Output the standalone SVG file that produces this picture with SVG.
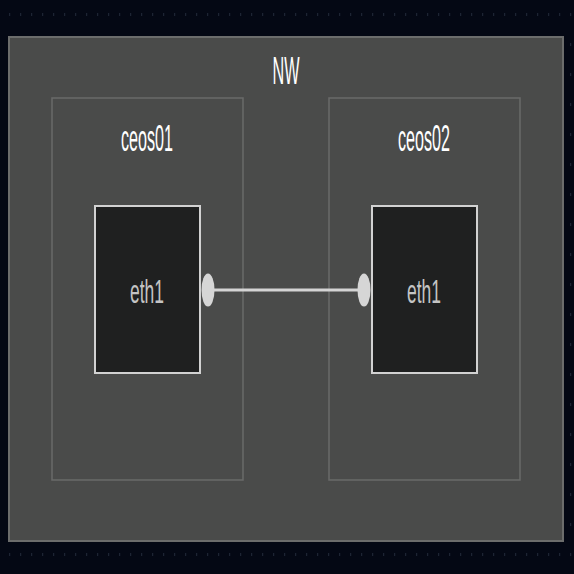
<svg xmlns="http://www.w3.org/2000/svg" width="574" height="574" viewBox="0 0 574 574">
<style>
.lbl{font-family:"Liberation Sans",Arial,sans-serif;text-anchor:middle}
.grp{fill:#4a4b4a;stroke:#6c6d6c;stroke-width:2}
.sub{fill:#4a4b4a;stroke:#6a6b6a;stroke-width:1.5}
.port{fill:#1f2020;stroke:#d2d2d2;stroke-width:2}
.handle{fill:#d6d6d6}
.link{stroke:#d4d4d4;stroke-width:3;fill:none}
</style>
<defs>
<pattern id="dots" x="9" y="13" width="11" height="30" patternUnits="userSpaceOnUse">
<rect x="0" y="0" width="1.2" height="3" fill="#1d2433"/>
</pattern>
</defs>
<rect x="0" y="0" width="574" height="574" fill="#040814"/>
<rect x="0" y="0" width="574" height="574" fill="url(#dots)"/>
<g id="NW">
<rect class="grp" x="9" y="37" width="554" height="504"/>
<text class="lbl" x="286" y="84" font-size="38" fill="#ffffff" textLength="27" lengthAdjust="spacingAndGlyphs">NW</text>
</g>
<g id="ceos01">
<rect class="sub" x="52" y="98" width="191" height="382"/>
<text class="lbl" x="147" y="151" font-size="36" fill="#ffffff" textLength="52" lengthAdjust="spacingAndGlyphs">ceos01</text>
</g>
<g id="ceos02">
<rect class="sub" x="329" y="98" width="191" height="382"/>
<text class="lbl" x="424" y="151" font-size="36" fill="#ffffff" textLength="52" lengthAdjust="spacingAndGlyphs">ceos02</text>
</g>
<g id="ceos01-eth1">
<rect class="port" x="95" y="206" width="105" height="167"/>
<text class="lbl" x="147" y="303" font-size="34" fill="#c4c4c4" textLength="34" lengthAdjust="spacingAndGlyphs">eth1</text>
</g>
<g id="ceos02-eth1">
<rect class="port" x="372" y="206" width="105" height="167"/>
<text class="lbl" x="424" y="303" font-size="34" fill="#c4c4c4" textLength="34" lengthAdjust="spacingAndGlyphs">eth1</text>
</g>
<g id="connectors">
<line class="link" x1="208" y1="290" x2="364" y2="290"/>
<ellipse class="handle" cx="208" cy="290" rx="6.5" ry="16.5"/>
<ellipse class="handle" cx="364" cy="290" rx="6.5" ry="16.5"/>
</g>
</svg>
